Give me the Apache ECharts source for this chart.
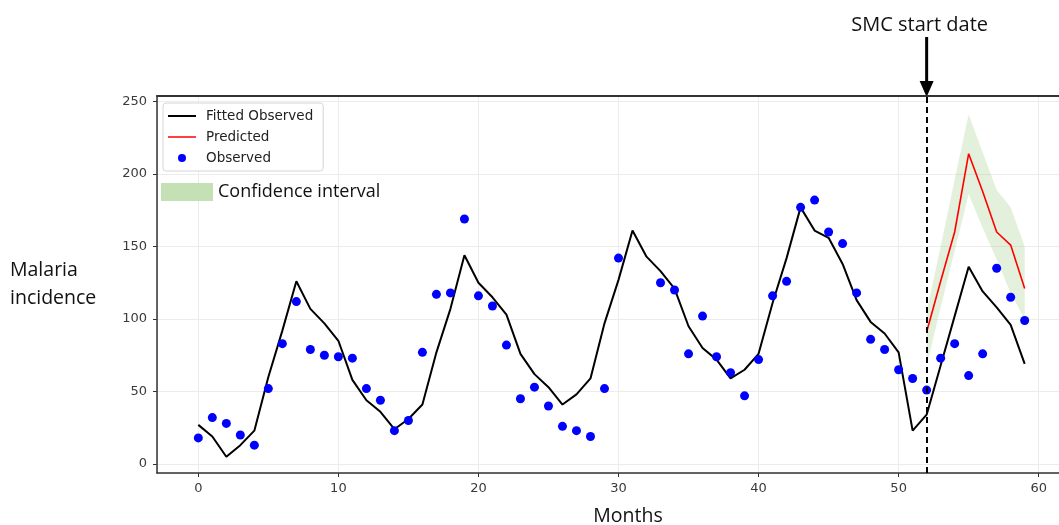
<!DOCTYPE html>
<html>
<head>
<meta charset="utf-8">
<script src="https://cdn.jsdelivr.net/npm/echarts@6/dist/echarts.min.js"></script>
<style>
  html, body {margin:0;padding:0;background:#fff;}
  #chart {width:1059px;height:525px;}
</style>
</head>
<body>
<div id="chart"></div>
<script>
// monthly values, month index = position in the array (0..59)
var observed = [18, 32, 28, 20, 13, 52, 83, 112, 79, 75,
                74, 73, 52, 44, 23, 30, 77, 117, 118, 169,
                116, 109, 82, 45, 53, 40, 26, 23, 19, 52,
                142, null, null, 125, 120, 76, 102, 74, 63, 47,
                72, 116, 126, 177, 182, 160, 152, 118, 86, 79,
                65, 59, 51, 73, 83, 61, 76, 135, 115, 99];
var fitted = [27, 19, 5, 13, 23, 60, 92, 126, 107, 97,
              85, 58, 44, 36, 24, 31, 41, 77, 107, 144,
              125, 115, 103, 76, 62, 53, 41, 48, 59, 97,
              127, 161, 143, 133, 121, 95, 80, 72, 59, 65,
              76, 111, 142, 177, 161, 156, 138, 113, 98, 90,
              77, 23, 34, 68, 102, 136, 119, 108, 96, 69];
// forecast after SMC start
var predMonths = [52, 53, 54, 55, 56, 57, 58, 59];
var predicted = [91, 126, 160, 214, 188, 160, 151, 121];
var ciLower = [68, 108, 147, 186, 163, 141, 118, 100];
var ciUpper = [105, 150, 196, 241, 215, 189, 177, 150];
var smcMonth = 52;

var pairs = function (xs, ys) {
    return ys.map(function (v, i) { return [xs ? xs[i] : i, v]; });
};

var chart = echarts.init(document.getElementById('chart'));

// whole confidence band as one polygon, built from the data through the axes
function renderBand(params, api) {
    if (params.dataIndex !== 0) return;
    var pts = [];
    for (var i = 0; i < predMonths.length; i++) pts.push(api.coord([predMonths[i], ciUpper[i]]));
    for (var j = predMonths.length - 1; j >= 0; j--) pts.push(api.coord([predMonths[j], ciLower[j]]));
    return {type: 'polygon', shape: {points: pts},
            style: {fill: 'rgba(150,200,130,0.28)'}};
}

var option = {
    animation: false,
    grid: {left: 157, top: 96, right: 0, bottom: 52, outerBoundsMode: 'none', containLabel: false},
    legend: {
        data: [
            {name: 'Fitted Observed', icon: 'path://M0,0H28V2H0Z'},
            {name: 'Predicted', icon: 'path://M0,0H28V1.5H0Z'},
            {name: 'Observed', icon: 'circle'}
        ],
        orient: 'vertical',
        left: 163, top: 103,
        padding: [6, 10, 6, 5],
        itemWidth: 28, itemHeight: 8, itemGap: 7,
        backgroundColor: '#fff',
        borderColor: '#d6d6d6', borderWidth: 1, borderRadius: 3,
        textStyle: {fontFamily: 'DejaVu Sans', fontSize: 13.5, color: '#222', padding: [0, 0, 0, 5]}
    },
    xAxis: [{
        type: 'value', min: -2.95, max: 61.45,
        name: 'Months', nameLocation: 'middle', nameGap: 33,
        nameTextStyle: {fontFamily: 'Open Sans', fontSize: 19.5, color: '#111', padding: [0, 0, 0, 40]},
        axisLine: {onZero: false, lineStyle: {color: '#333', width: 1.5}},
        axisTick: {show: true, length: 4, lineStyle: {color: '#333'}},
        axisLabel: {fontFamily: 'DejaVu Sans', fontSize: 13, color: '#3a3a3a', margin: 9,
                    showMinLabel: false, showMaxLabel: false},
        splitLine: {show: true, lineStyle: {color: '#ececec'}}
    }, {
        // top spine only
        type: 'value', position: 'top', min: -2.95, max: 61.45,
        axisLine: {show: true, onZero: false, lineStyle: {color: '#333', width: 2}},
        axisTick: {show: false}, axisLabel: {show: false}, splitLine: {show: false}
    }],
    yAxis: {
        type: 'value', min: -6.2, max: 253.8,
        name: 'Malaria\nincidence', nameLocation: 'middle', nameRotate: 0, nameGap: 147,
        nameTextStyle: {fontFamily: 'Open Sans', fontSize: 19.5, color: '#111', align: 'left',
                        lineHeight: 28, padding: [8, 0, 0, 0]},
        axisLine: {show: true, onZero: false, lineStyle: {color: '#333', width: 1.5}},
        axisTick: {show: true, length: 4, lineStyle: {color: '#333'}},
        axisLabel: {fontFamily: 'DejaVu Sans', fontSize: 13, color: '#3a3a3a', margin: 10,
                    showMinLabel: false, showMaxLabel: false},
        splitLine: {show: true, lineStyle: {color: '#ececec'}}
    },
    series: [
        {
            name: 'Confidence interval', type: 'custom', renderItem: renderBand,
            data: predMonths.map(function (m, i) { return [m, ciLower[i], ciUpper[i]]; }),
            encode: {x: 0, y: [1, 2]}, silent: true, z: 1
        },
        {
            name: 'Fitted Observed', type: 'line', data: pairs(null, fitted),
            color: '#000', symbol: 'none', lineStyle: {color: '#000', width: 2}, z: 3,
            markLine: {
                silent: true, symbol: 'none', label: {show: false},
                lineStyle: {color: '#000', type: [6, 4], width: 2},
                data: [{xAxis: smcMonth}]
            }
        },
        {
            name: 'Predicted', type: 'line', data: pairs(predMonths, predicted),
            color: '#ff0000', symbol: 'none', lineStyle: {color: '#ff0000', width: 1.6}, z: 3
        },
        {
            name: 'Observed', type: 'scatter', data: pairs(null, observed),
            color: '#0000ff', symbolSize: 9, itemStyle: {color: '#0000ff', opacity: 1}, z: 4
        }
    ]
};
chart.setOption(option);

// annotation: arrow and label above the SMC start line, plus the CI patch
var sx = chart.convertToPixel({xAxisIndex: 0}, smcMonth);
chart.setOption({
    graphic: [
        {type: 'text', x: sx - 7, y: 25, style: {text: 'SMC start date',
            font: '20px "Open Sans"', fill: '#111', textAlign: 'center', verticalAlign: 'middle'}},
        {type: 'line', shape: {x1: sx, y1: 37, x2: sx, y2: 84}, style: {stroke: '#000', lineWidth: 3}},
        {type: 'polygon', shape: {points: [[sx - 7, 81], [sx + 7, 81], [sx, 97]]}, style: {fill: '#000'}},
        {type: 'rect', shape: {x: 161, y: 183, width: 52, height: 18}, style: {fill: '#c5e0b4'}},
        {type: 'text', x: 218, y: 192, style: {text: 'Confidence interval',
            font: '18px "Open Sans"', fill: '#111', verticalAlign: 'middle'}}
    ]
});

window.onresize = function () {
    chart.resize();
};
</script>
</body>
</html>
